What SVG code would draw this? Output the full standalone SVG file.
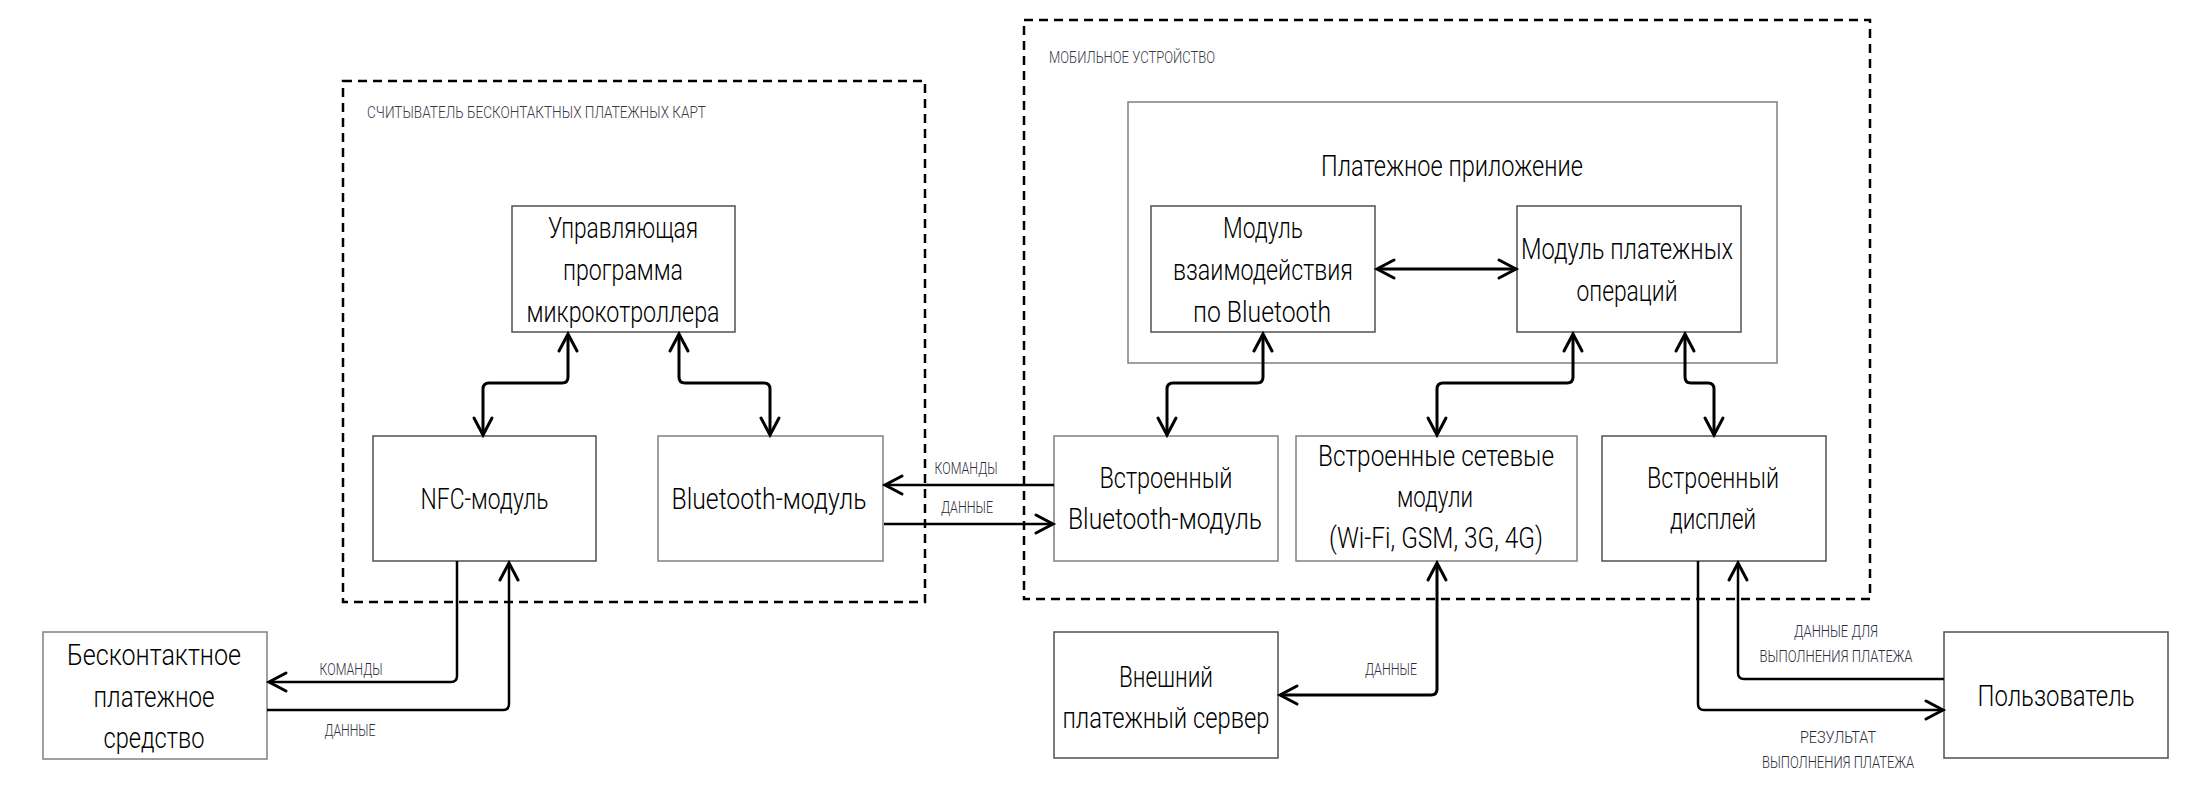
<svg xmlns="http://www.w3.org/2000/svg" width="2188" height="799" viewBox="0 0 2188 799">
<style>
.bg{fill:#fff}
.box{fill:#fff;stroke:#505050;stroke-width:1.5}
.box2{fill:#fff;stroke:#808080;stroke-width:1.5}
.frame{fill:none;stroke:#000;stroke-width:2.5;stroke-dasharray:9 6}
.t{font-family:Roboto,'DejaVu Sans Condensed','DejaVu Sans',sans-serif;font-weight:300;font-size:29px;fill:#000;text-anchor:middle}
.lbl{font-family:Roboto,'DejaVu Sans Condensed','DejaVu Sans',sans-serif;font-weight:300;font-size:17px;fill:#2c2c3c;text-anchor:middle}
.ttl{font-family:Roboto,'DejaVu Sans Condensed','DejaVu Sans',sans-serif;font-weight:300;font-size:17px;fill:#3a3a45}
.c{fill:none;stroke:#000;stroke-width:3;stroke-linejoin:round}
.c2{fill:none;stroke:#000;stroke-width:2.5;stroke-linejoin:round}
</style>
<defs>
<marker id="ah" markerUnits="userSpaceOnUse" viewBox="-20 -12 24 24" refX="0" refY="0" markerWidth="24" markerHeight="24" orient="auto-start-reverse">
<path d="M-17,-9 L0,0 L-17,9" fill="none" stroke="#000" stroke-width="3" stroke-linecap="round" stroke-linejoin="miter"/>
</marker>
</defs>
<rect class="bg" x="0" y="0" width="2188" height="799"/>

<g id="reader-frame">
<rect class="frame" x="343" y="81" width="582" height="521"/>
<text class="ttl" x="367" y="118" textLength="339" lengthAdjust="spacingAndGlyphs">СЧИТЫВАТЕЛЬ БЕСКОНТАКТНЫХ ПЛАТЕЖНЫХ КАРТ</text>
</g>
<g id="mobile-frame">
<rect class="frame" x="1024" y="20" width="846" height="579"/>
<text class="ttl" x="1049" y="63" textLength="166" lengthAdjust="spacingAndGlyphs">МОБИЛЬНОЕ УСТРОЙСТВО</text>
</g>

<g id="control">
<rect class="box" x="512" y="206" width="223" height="126"/>
<text class="t" x="623" y="238" textLength="150" lengthAdjust="spacingAndGlyphs">Управляющая</text>
<text class="t" x="623" y="280" textLength="120" lengthAdjust="spacingAndGlyphs">программа</text>
<text class="t" x="623" y="322" textLength="193" lengthAdjust="spacingAndGlyphs">микрокотроллера</text>
</g>
<g id="nfc">
<rect class="box" x="373" y="436" width="223" height="125"/>
<text class="t" x="484.5" y="509" textLength="128" lengthAdjust="spacingAndGlyphs">NFC-модуль</text>
</g>
<g id="bt">
<rect class="box2" x="658" y="436" width="225" height="125"/>
<text class="t" x="769" y="509" textLength="195" lengthAdjust="spacingAndGlyphs">Bluetooth-модуль</text>
</g>
<g id="payapp">
<rect class="box2" x="1128" y="102" width="649" height="261"/>
<text class="t" x="1452" y="176" textLength="262" lengthAdjust="spacingAndGlyphs">Платежное приложение</text>
</g>
<g id="btmod">
<rect class="box" x="1151" y="206" width="224" height="126"/>
<text class="t" x="1263" y="238" textLength="80" lengthAdjust="spacingAndGlyphs">Модуль</text>
<text class="t" x="1263" y="280" textLength="180" lengthAdjust="spacingAndGlyphs">взаимодействия</text>
<text class="t" x="1262" y="322" textLength="138" lengthAdjust="spacingAndGlyphs">по Bluetooth</text>
</g>
<g id="ops">
<rect class="box" x="1517" y="206" width="224" height="126"/>
<text class="t" x="1627" y="259" textLength="212" lengthAdjust="spacingAndGlyphs">Модуль платежных</text>
<text class="t" x="1627" y="301" textLength="101" lengthAdjust="spacingAndGlyphs">операций</text>
</g>
<g id="builtin-bt">
<rect class="box2" x="1054" y="436" width="224" height="125"/>
<text class="t" x="1166" y="488" textLength="133" lengthAdjust="spacingAndGlyphs">Встроенный</text>
<text class="t" x="1165" y="529" textLength="194" lengthAdjust="spacingAndGlyphs">Bluetooth-модуль</text>
</g>
<g id="network">
<rect class="box2" x="1296" y="436" width="281" height="125"/>
<text class="t" x="1436" y="466" textLength="236" lengthAdjust="spacingAndGlyphs">Встроенные сетевые</text>
<text class="t" x="1435" y="507" textLength="76" lengthAdjust="spacingAndGlyphs">модули</text>
<text class="t" x="1436" y="548" textLength="214" lengthAdjust="spacingAndGlyphs">(Wi-Fi, GSM, 3G, 4G)</text>
</g>
<g id="display">
<rect class="box" x="1602" y="436" width="224" height="125"/>
<text class="t" x="1713" y="488" textLength="132" lengthAdjust="spacingAndGlyphs">Встроенный</text>
<text class="t" x="1713" y="529" textLength="86" lengthAdjust="spacingAndGlyphs">дисплей</text>
</g>
<g id="contactless">
<rect class="box2" x="43" y="632" width="224" height="127"/>
<text class="t" x="154" y="665" textLength="174" lengthAdjust="spacingAndGlyphs">Бесконтактное</text>
<text class="t" x="154" y="707" textLength="121" lengthAdjust="spacingAndGlyphs">платежное</text>
<text class="t" x="154" y="748" textLength="101" lengthAdjust="spacingAndGlyphs">средство</text>
</g>
<g id="server">
<rect class="box" x="1054" y="632" width="224" height="126"/>
<text class="t" x="1166" y="687" textLength="94" lengthAdjust="spacingAndGlyphs">Внешний</text>
<text class="t" x="1166" y="728" textLength="207" lengthAdjust="spacingAndGlyphs">платежный сервер</text>
</g>
<g id="user">
<rect class="box" x="1944" y="632" width="224" height="126"/>
<text class="t" x="2056" y="706" textLength="157" lengthAdjust="spacingAndGlyphs">Пользователь</text>
</g>

<g id="connectors">
<path class="c" marker-start="url(#ah)" marker-end="url(#ah)" d="M568,334 V377 Q568,383 562,383 H489 Q483,383 483,389 V435"/>
<path class="c" marker-start="url(#ah)" marker-end="url(#ah)" d="M679,334 V377 Q679,383 685,383 H764 Q770,383 770,389 V435"/>
<path class="c" marker-start="url(#ah)" marker-end="url(#ah)" d="M1263,334 V377 Q1263,383 1257,383 H1173 Q1167,383 1167,389 V435"/>
<path class="c" marker-start="url(#ah)" marker-end="url(#ah)" d="M1573,334 V377 Q1573,383 1567,383 H1443 Q1437,383 1437,389 V435"/>
<path class="c" marker-start="url(#ah)" marker-end="url(#ah)" d="M1685,334 V377 Q1685,383 1691,383 H1708 Q1714,383 1714,389 V435"/>
<path class="c" marker-start="url(#ah)" marker-end="url(#ah)" d="M1377,269 H1516"/>
<path class="c2" marker-end="url(#ah)" d="M1054,485 H885"/>
<path class="c2" marker-end="url(#ah)" d="M884,524 H1053"/>
<path class="c2" marker-end="url(#ah)" d="M457,561 V676 Q457,682 451,682 H269"/>
<path class="c2" marker-end="url(#ah)" d="M267,710 H503 Q509,710 509,704 V563"/>
<path class="c" marker-start="url(#ah)" marker-end="url(#ah)" d="M1437,563 V689 Q1437,695 1431,695 H1280"/>
<path class="c2" marker-end="url(#ah)" d="M1698,561 V704 Q1698,710 1704,710 H1943"/>
<path class="c2" marker-end="url(#ah)" d="M1944,679 H1744 Q1738,679 1738,673 V563"/>
<text class="lbl" x="966" y="474" textLength="63" lengthAdjust="spacingAndGlyphs">КОМАНДЫ</text>
<text class="lbl" x="967" y="513" textLength="52" lengthAdjust="spacingAndGlyphs">ДАННЫЕ</text>
<text class="lbl" x="351" y="675" textLength="63" lengthAdjust="spacingAndGlyphs">КОМАНДЫ</text>
<text class="lbl" x="350" y="736" textLength="51" lengthAdjust="spacingAndGlyphs">ДАННЫЕ</text>
<text class="lbl" x="1391" y="675" textLength="52" lengthAdjust="spacingAndGlyphs">ДАННЫЕ</text>
<text class="lbl" x="1836" y="637" textLength="84" lengthAdjust="spacingAndGlyphs">ДАННЫЕ ДЛЯ</text>
<text class="lbl" x="1836" y="662" textLength="153" lengthAdjust="spacingAndGlyphs">ВЫПОЛНЕНИЯ ПЛАТЕЖА</text>
<text class="lbl" x="1838" y="743" textLength="76" lengthAdjust="spacingAndGlyphs">РЕЗУЛЬТАТ</text>
<text class="lbl" x="1838" y="768" textLength="152" lengthAdjust="spacingAndGlyphs">ВЫПОЛНЕНИЯ ПЛАТЕЖА</text>
</g>
</svg>
